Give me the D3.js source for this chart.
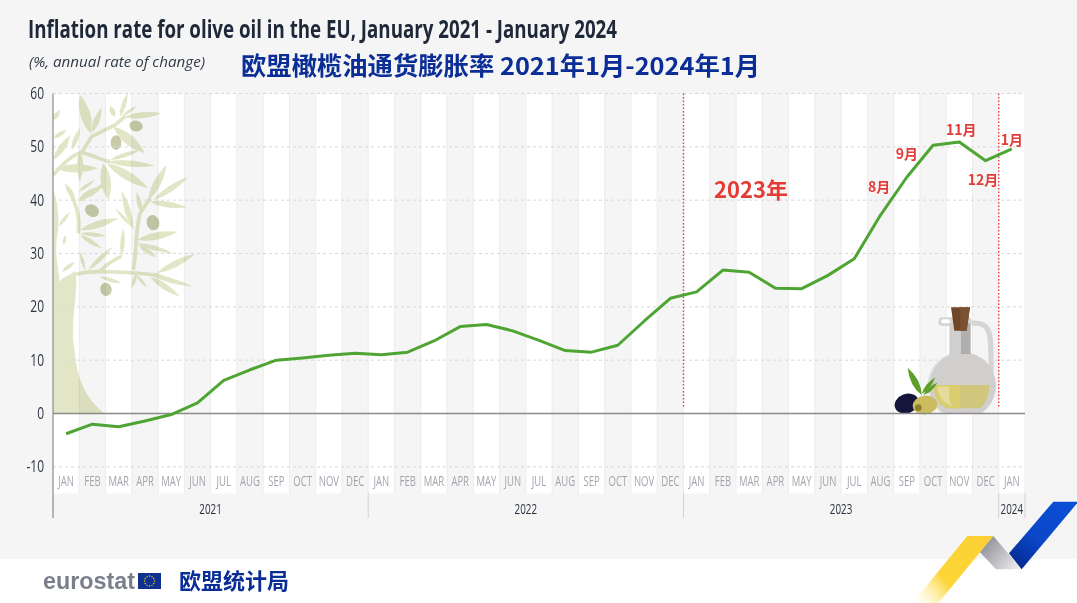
<!DOCTYPE html>
<html><head><meta charset="utf-8">
<script src="https://cdn.jsdelivr.net/npm/d3@7/dist/d3.min.js"></script>
<style>html,body{margin:0;padding:0;background:#fff}svg{display:block}</style></head>
<body><svg id="c" width="1077" height="603"></svg>
<script>
const monthLabels = ["JAN","FEB","MAR","APR","MAY","JUN","JUL","AUG","SEP","OCT","NOV","DEC","JAN","FEB","MAR","APR","MAY","JUN","JUL","AUG","SEP","OCT","NOV","DEC","JAN","FEB","MAR","APR","MAY","JUN","JUL","AUG","SEP","OCT","NOV","DEC","JAN"];
const inflation = [-3.8,-2,-2.5,-1.4,-0.2,2,6.2,8.2,10,10.4,10.9,11.3,11,11.5,13.6,16.3,16.7,15.5,13.7,11.8,11.5,12.8,17.3,21.6,22.8,26.9,26.5,23.5,23.4,25.9,29,37.2,44.3,50.3,50.9,47.4,49.6];
const yTicks = [-10,0,10,20,30,40,50,60];
const years = ["2021","2022","2023","2024"];
const yearMonths = [12,12,12,1];
const redMonths = [["8月",31],["9月",32],["11月",34],["12月",35],["1月",36]];
const redOffsets = [[-1.5,-23],[0,-18.6],[2,-7],[-2.6,24.5],[0,-4]];
const markerMonths = [24,36];

const SANS = "'Open Sans',sans-serif";
const CJK = "'Noto Sans CJK SC',sans-serif";
const svg = d3.select("#c");
const idx = d3.range(monthLabels.length);
const x = d3.scaleBand().domain(idx).range([53,1025]);
const y = d3.scaleLinear().domain([-15,60]).range([493.5,93.5]);
const band = x.bandwidth();
function squeeze(sel,f){sel.each(function(){const t=d3.select(this);t.attr("textLength",this.getComputedTextLength()*f).attr("lengthAdjust","spacingAndGlyphs");});}

const defs = svg.append("defs");
function grad(id,x1,y1,x2,y2,stops){
  const g=defs.append("linearGradient").attr("id",id).attr("gradientUnits","userSpaceOnUse")
    .attr("x1",x1).attr("y1",y1).attr("x2",x2).attr("y2",y2);
  stops.forEach(s=>g.append("stop").attr("offset",s[0]).attr("stop-color",s[1]).attr("stop-opacity",s[2]===undefined?1:s[2]));
}
grad("gy",1000,536,915,603,[[0,"#fccf33"],[.65,"#fdd535"],[1,"#fff3b0",0]]);
grad("gg",985,540,1020,568,[[0,"#8f8f96"],[1,"#f0f0f2"]]);
grad("gb",1065,500,1015,570,[[0,"#0a4fd6"],[.55,"#0a47c8"],[1,"#05288c"]]);

svg.append("rect").attr("width",1077).attr("height",559).attr("fill","#f5f5f5");

// alternating bands
svg.append("g").selectAll("rect").data(idx).join("rect")
  .attr("x",d=>x(d)).attr("y",y(60)).attr("width",band+.3).attr("height",y(-15)-y(60))
  .attr("fill",d=>d%2?"#f5f5f5":"#ffffff");
svg.append("g").selectAll("line").data(idx.slice(1).concat([37])).join("line")
  .attr("x1",d=>d<37?x(d):1025).attr("x2",d=>d<37?x(d):1025).attr("y1",y(60)).attr("y2",y(-15))
  .attr("stroke","#ececec").attr("stroke-width",1);

// tree
const tree = svg.append("g").attr("transform","scale(0.3333)").style("mix-blend-mode","multiply");
const TC="#e3e6c6";
const leaves=[[272,400,240,285,30],[275,400,305,322,18],[345,350,330,318,16],[360,350,383,278,14],[365,350,410,318,10],[370,352,485,340,18],[340,380,435,460,30],[330,480,420,450,14],[320,485,465,497,18],[320,490,445,565,26],[310,490,325,600,30],[240,450,240,545,20],[165,505,295,505,25],[240,595,305,560,20],[235,575,285,540,10],[225,600,195,550,15],[160,360,180,330,14],[160,415,200,390,14],[160,480,212,405,20],[215,450,240,385,16],[445,600,500,495,22],[460,600,565,530,18],[450,605,560,622,18],[425,640,410,575,14],[400,690,365,570,18],[395,680,345,625,10],[175,680,210,635,10],[240,690,355,655,22],[240,700,318,708,12],[240,705,305,745,14],[410,720,533,695,22],[410,730,520,760,14],[415,735,470,772,14],[365,770,370,685,14],[470,820,585,762,20],[450,825,580,860,14],[450,830,540,890,18],[410,820,395,865,12],[410,825,440,862,10],[300,830,365,850,12],[265,810,338,740,14],[255,810,240,755,10],[185,815,225,785,12],[190,735,197,705,10]];
function leaf(a,k){const [x1,y1,x2,y2,w]=a;const dx=x2-x1,dy=y2-y1,l=Math.hypot(dx,dy),nx=-dy/l*w*(k||1),ny=dx/l*w*(k||1),mx=x1+dx*.45,my=y1+dy*.45;
  return `M${x1},${y1}Q${mx+nx},${my+ny} ${x2},${y2}Q${mx-nx},${my-ny} ${x1},${y1}Z`;}
tree.selectAll("path.l").data(leaves).join("path").attr("class","l").attr("d",d=>leaf(d)).attr("fill",TC);
["M175,860C190,830 230,815 300,815S420,820 470,825L540,850",
 "M400,810C410,760 405,700 420,640L450,595",
 "M235,700C240,660 235,625 205,565",
 "M240,600L310,555",
 "M160,525C190,490 215,465 245,458C280,465 300,480 330,485",
 "M245,458L275,410L345,375L375,350",
 "M300,815C320,790 360,770 365,770"].forEach(d=>tree.append("path").attr("d",d).attr("fill","none").attr("stroke",TC).attr("stroke-width",11));
tree.append("path").attr("fill",TC).attr("d","M160,570C175,610 180,660 170,720C165,770 175,800 180,850L225,812C240,880 205,960 225,1060C232,1130 250,1190 315,1242L160,1242Z");
[[408,378,20,16,15],[348,428,16,22,0],[276,632,22,18,30],[459,668,19,23,-15],[318,868,17,20,-10]].forEach(e=>
  tree.append("ellipse").attr("rx",e[2]).attr("ry",e[3]).attr("transform",`translate(${e[0]},${e[1]}) rotate(${e[4]})`).attr("fill","#c8cba8"));

// gridlines
svg.append("g").selectAll("line").data(yTicks.filter(d=>d!==0)).join("line")
  .attr("x1",53).attr("x2",1025).attr("y1",d=>y(d)).attr("y2",d=>y(d))
  .attr("stroke","#d8d8d8").attr("stroke-dasharray","3 3");

// bottle & olives
const b = svg.append("g").attr("transform","translate(860,290) scale(0.3333)");
defs.append("clipPath").attr("id","bc").append("rect").attr("x",150).attr("y",40).attr("width",300).attr("height",332);
const bc=b.append("g").attr("clip-path","url(#bc)");
bc.append("path").attr("d","M335,100C395,95 395,130 393,250").attr("fill","none").attr("stroke","#d6d5d4").attr("stroke-width",16);
bc.append("circle").attr("cx",302).attr("cy",287).attr("r",100).attr("fill","#e3e2e1");
bc.append("circle").attr("cx",308).attr("cy",287).attr("r",100).attr("fill","#d0cfce");
bc.append("rect").attr("x",235).attr("y",82).attr("width",100).attr("height",26).attr("rx",12).attr("fill","#d6d5d4");
bc.append("rect").attr("x",244).attr("y",88).attr("width",26).attr("height",12).attr("rx",6).attr("fill","#fff");
bc.append("rect").attr("x",268).attr("y",100).attr("width",34).attr("height",105).attr("fill","#d0cfce");
bc.append("rect").attr("x",302).attr("y",100).attr("width",30).attr("height",92).attr("fill","#b0afae");
bc.append("path").attr("d","M222,285H388C388,325 372,345 360,355H262C235,345 222,320 222,285Z").attr("fill","#d0c67c");
bc.append("path").attr("d","M222,285H300V355H262C235,345 222,320 222,285Z").attr("fill","#d9cd6e");
bc.append("path").attr("d","M232,290H270C262,315 270,340 280,350C250,340 235,320 232,290Z").attr("fill","#e5dc9c");
bc.append("path").attr("d","M273,52H330L320,122H283Z").attr("fill","#70452a");
bc.append("path").attr("d","M301,52H330L320,122H301Z").attr("fill","#7d5233");
[[185,315,143,233,20],[185,312,226,262,12],[190,315,232,278,12]].forEach(l=>b.append("path").attr("d",leaf(l)).attr("fill","#5f9e28"));
b.append("ellipse").attr("rx",37).attr("ry",29).attr("transform","translate(140,341) rotate(-20)").attr("fill","#15153c");
b.append("ellipse").attr("rx",37).attr("ry",28).attr("transform","translate(195,345) rotate(-8)").attr("fill","#cbbd5e");
b.append("circle").attr("cx",175).attr("cy",353).attr("r",10).attr("fill","#8c8030");

// month labels
const axM = d3.axisBottom(x).tickSize(0).tickFormat(d=>monthLabels[d]);
const gM = svg.append("g").attr("transform","translate(0,471)").call(axM);
gM.select(".domain").remove();
gM.selectAll("text").attr("dy",0).attr("y",15).attr("fill","#a3a5ae").attr("font-family",SANS).attr("font-size",14).call(squeeze,.68);

// y axis
const axY = d3.axisLeft(y).tickValues(yTicks).tickSize(0).tickPadding(9).tickFormat(d=>String(d));
const gY = svg.append("g").attr("transform","translate(53,0)").call(axY);
gY.select(".domain").remove();
gY.selectAll("text").attr("fill","#2b3240").attr("font-family",SANS).attr("font-size",16).call(squeeze,.75);

// axis lines
svg.append("line").attr("x1",53).attr("x2",53).attr("y1",y(60)).attr("y2",518).attr("stroke","#777").attr("stroke-width",1);
svg.append("line").attr("x1",53).attr("x2",1025).attr("y1",y(0)).attr("y2",y(0)).attr("stroke","#8a8a8a").attr("stroke-width",1.3);

// year groups
let cum=0;
const yearData = years.map((t,i)=>{const s=cum;cum+=yearMonths[i];return {t,s,e:cum};});
svg.append("g").selectAll("line").data(yearData).join("line")
  .attr("x1",d=>d.e<37?x(d.e):1025).attr("x2",d=>d.e<37?x(d.e):1025).attr("y1",493).attr("y2",518).attr("stroke","#d2d2d2");
svg.append("g").selectAll("text").data(yearData).join("text")
  .attr("x",d=>(x(d.s)+(d.e<37?x(d.e):1025))/2).attr("y",514).attr("text-anchor","middle")
  .attr("fill","#2b3240").attr("font-family",SANS).attr("font-size",14.5).text(d=>d.t).call(squeeze,.68);

// red markers
svg.append("g").selectAll("line").data(markerMonths).join("line")
  .attr("x1",d=>x(d)).attr("x2",d=>x(d)).attr("y1",y(60)).attr("y2",y(1))
  .attr("stroke","#ee3f3f").attr("stroke-width",1.4).attr("stroke-dasharray","1.5 2");

// series
const line = d3.line().x((d,i)=>x(i)+band/2).y(d=>y(d));
svg.append("path").datum(inflation).attr("d",line).attr("fill","none").attr("stroke","#4fa534").attr("stroke-width",3).attr("stroke-linejoin","round");

// red annotations
svg.append("g").selectAll("text").data(redMonths).join("text")
  .attr("x",(d,i)=>x(d[1])+band/2+redOffsets[i][0])
  .attr("y",(d,i)=>y(inflation[d[1]])+redOffsets[i][1])
  .attr("text-anchor","middle").attr("fill","#e23c38").attr("font-family",CJK).attr("font-weight",700).attr("font-size",14).text(d=>d[0]);
svg.append("text").attr("x",714).attr("y",198).attr("fill","#e53b35").attr("font-family",CJK).attr("font-weight",700).attr("font-size",22).text("2023年");

// titles
svg.append("text").attr("x",28).attr("y",38).attr("fill","#1e2838").attr("font-family",SANS).attr("font-weight",700).attr("font-size",25)
  .attr("textLength",589).attr("lengthAdjust","spacingAndGlyphs").text("Inflation rate for olive oil in the EU, January 2021 - January 2024");
svg.append("text").attr("x",29).attr("y",67).attr("fill","#333b49").attr("font-family",SANS).attr("font-style","italic").attr("font-size",15)
  .attr("textLength",176).attr("lengthAdjust","spacingAndGlyphs").text("(%, annual rate of change)");
svg.append("text").attr("x",241).attr("y",75).attr("fill","#0b2e96").attr("font-family",CJK).attr("font-weight",700).attr("font-size",24.5)
  .attr("textLength",519).attr("lengthAdjust","spacingAndGlyphs").text("欧盟橄榄油通货膨胀率 2021年1月-2024年1月");

// footer
svg.append("text").attr("x",43).attr("y",589).attr("fill","#7b7f8c").attr("font-family","'Liberation Sans',sans-serif").attr("font-weight",700).attr("font-size",23)
  .attr("textLength",92).attr("lengthAdjust","spacingAndGlyphs").text("eurostat");
svg.append("rect").attr("x",138).attr("y",573).attr("width",23).attr("height",16).attr("fill","#10308f");
const flag=d3.range(12);
svg.append("g").selectAll("circle").data(flag).join("circle")
  .attr("cx",d=>149.5+5*Math.cos(d*Math.PI/6)).attr("cy",d=>581+5*Math.sin(d*Math.PI/6)).attr("r",.7).attr("fill","#f5d327");
svg.append("text").attr("x",179).attr("y",589).attr("fill","#0b2e96").attr("font-family",CJK).attr("font-weight",700).attr("font-size",22).text("欧盟统计局");

// ribbon
const R = (pts,f)=>svg.append("polygon").attr("points",pts.map(p=>[880+p[0]/3,490+p[1]/3].join(",")).join(" ")).attr("fill",f);
R([[262,138],[340,138],[175,339],[97,339]],"url(#gy)");
R([[340,138],[425,238],[348,238],[300,187]],"url(#gg)");
R([[520,35],[591,35],[591,40],[425,238],[387,190]],"url(#gb)");
</script></body></html>
